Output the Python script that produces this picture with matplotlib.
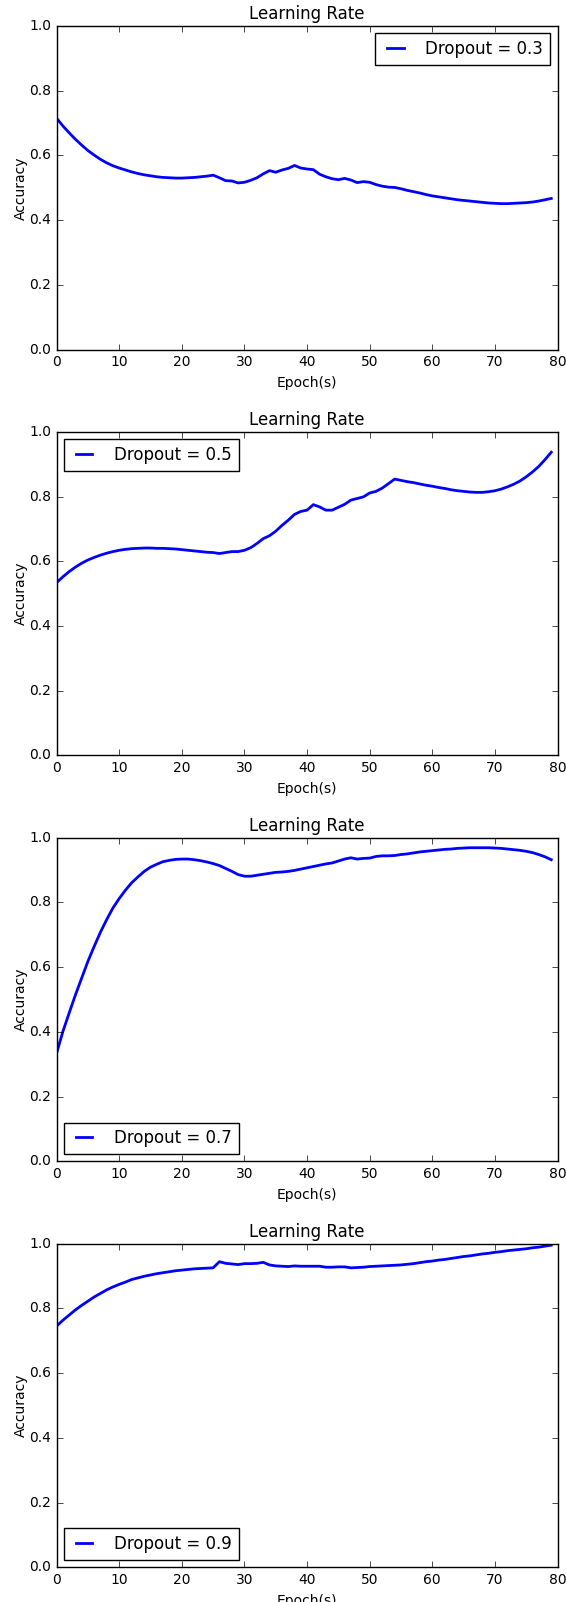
import matplotlib
matplotlib.use("Agg")
import matplotlib.pyplot as plt

epochs = list(range(80))

acc_03 = [0.715, 0.691, 0.670, 0.650, 0.632, 0.615, 0.601, 0.588, 0.577, 0.568,
          0.561, 0.555, 0.549, 0.544, 0.540, 0.537, 0.534, 0.532, 0.531, 0.530,
          0.530, 0.531, 0.532, 0.534, 0.536, 0.539, 0.531, 0.522, 0.521, 0.515,
          0.517, 0.523, 0.531, 0.543, 0.553, 0.548, 0.555, 0.560, 0.569, 0.561,
          0.558, 0.556, 0.542, 0.534, 0.528, 0.525, 0.529, 0.524, 0.516, 0.519,
          0.517, 0.510, 0.505, 0.502, 0.501, 0.497, 0.492, 0.488, 0.484, 0.479,
          0.475, 0.472, 0.469, 0.466, 0.463, 0.461, 0.459, 0.457, 0.455, 0.453,
          0.452, 0.451, 0.451, 0.452, 0.453, 0.454, 0.456, 0.459, 0.463, 0.467]

acc_05 = [0.534, 0.552, 0.568, 0.582, 0.594, 0.604, 0.612, 0.619, 0.625, 0.630,
          0.634, 0.637, 0.639, 0.640, 0.641, 0.641, 0.640, 0.640, 0.639, 0.638,
          0.636, 0.634, 0.632, 0.630, 0.628, 0.627, 0.624, 0.627, 0.630, 0.630,
          0.634, 0.642, 0.655, 0.670, 0.679, 0.693, 0.711, 0.727, 0.745, 0.754,
          0.758, 0.775, 0.768, 0.758, 0.758, 0.767, 0.776, 0.789, 0.794, 0.799,
          0.811, 0.816, 0.826, 0.840, 0.854, 0.850, 0.846, 0.843, 0.839, 0.835,
          0.832, 0.828, 0.825, 0.821, 0.818, 0.816, 0.814, 0.813, 0.813, 0.815,
          0.818, 0.823, 0.830, 0.838, 0.848, 0.861, 0.876, 0.893, 0.914, 0.937]

acc_07 = [0.334, 0.401, 0.458, 0.514, 0.566, 0.618, 0.664, 0.708, 0.747, 0.783,
          0.812, 0.838, 0.861, 0.879, 0.896, 0.909, 0.918, 0.926, 0.930, 0.933,
          0.934, 0.934, 0.932, 0.929, 0.925, 0.920, 0.914, 0.905, 0.896, 0.886,
          0.881, 0.881, 0.884, 0.887, 0.890, 0.893, 0.894, 0.896, 0.899, 0.903,
          0.907, 0.911, 0.915, 0.919, 0.922, 0.928, 0.934, 0.938, 0.934, 0.936,
          0.937, 0.942, 0.944, 0.944, 0.945, 0.948, 0.950, 0.953, 0.956, 0.958,
          0.960, 0.962, 0.964, 0.965, 0.967, 0.968, 0.969, 0.969, 0.969, 0.969,
          0.968, 0.967, 0.965, 0.963, 0.961, 0.958, 0.954, 0.948, 0.941, 0.932]

acc_09 = [0.745, 0.763, 0.779, 0.795, 0.809, 0.822, 0.835, 0.846, 0.857, 0.866,
          0.874, 0.881, 0.889, 0.894, 0.899, 0.903, 0.907, 0.910, 0.913, 0.916,
          0.918, 0.920, 0.922, 0.923, 0.924, 0.925, 0.944, 0.939, 0.937, 0.935,
          0.938, 0.938, 0.939, 0.942, 0.934, 0.931, 0.930, 0.929, 0.931, 0.930,
          0.930, 0.930, 0.930, 0.927, 0.927, 0.928, 0.928, 0.925, 0.926, 0.927,
          0.929, 0.930, 0.931, 0.932, 0.933, 0.934, 0.936, 0.938, 0.941, 0.944,
          0.946, 0.949, 0.951, 0.954, 0.957, 0.960, 0.962, 0.965, 0.968, 0.970,
          0.973, 0.975, 0.978, 0.980, 0.982, 0.984, 0.987, 0.989, 0.992, 0.995]

series = [acc_03, acc_05, acc_07, acc_09]
labels = ["Dropout = 0.3", "Dropout = 0.5", "Dropout = 0.7", "Dropout = 0.9"]
legend_locs = ["upper right", "upper left", "lower left", "lower left"]
title = "Learning Rate"
xlabel = "Epoch(s)"
ylabel = "Accuracy"
xticks = list(range(0, 81, 10))
yticks = [0.0, 0.2, 0.4, 0.6, 0.8, 1.0]

plt.style.use("classic")
plt.rcParams["font.family"] = ["DejaVu Sans"]

fig, axes = plt.subplots(4, 1, figsize=(5.66, 16.02), dpi=100)
fig.patch.set_facecolor("white")
fig.subplots_adjust(left=0.100, right=0.985, top=0.9838, bottom=0.0217, hspace=0.254)

for ax, ys, lab, loc in zip(axes, series, labels, legend_locs):
    ax.plot(epochs, ys, color="blue", linewidth=2, label=lab)
    ax.set_xlim(0, 80)
    ax.set_ylim(0, 1.0)
    ax.set_xticks(xticks)
    ax.set_yticks(yticks)
    ax.tick_params(labelsize=10)
    ax.set_title(title, fontsize=12)
    ax.set_xlabel(xlabel, fontsize=10)
    ax.set_ylabel(ylabel, fontsize=10, labelpad=1)
    ax.legend(loc=loc, fontsize=12, handlelength=1.6, handletextpad=1.0,
              borderaxespad=0.45)

fig.savefig("out.png", dpi=100, facecolor="white")
